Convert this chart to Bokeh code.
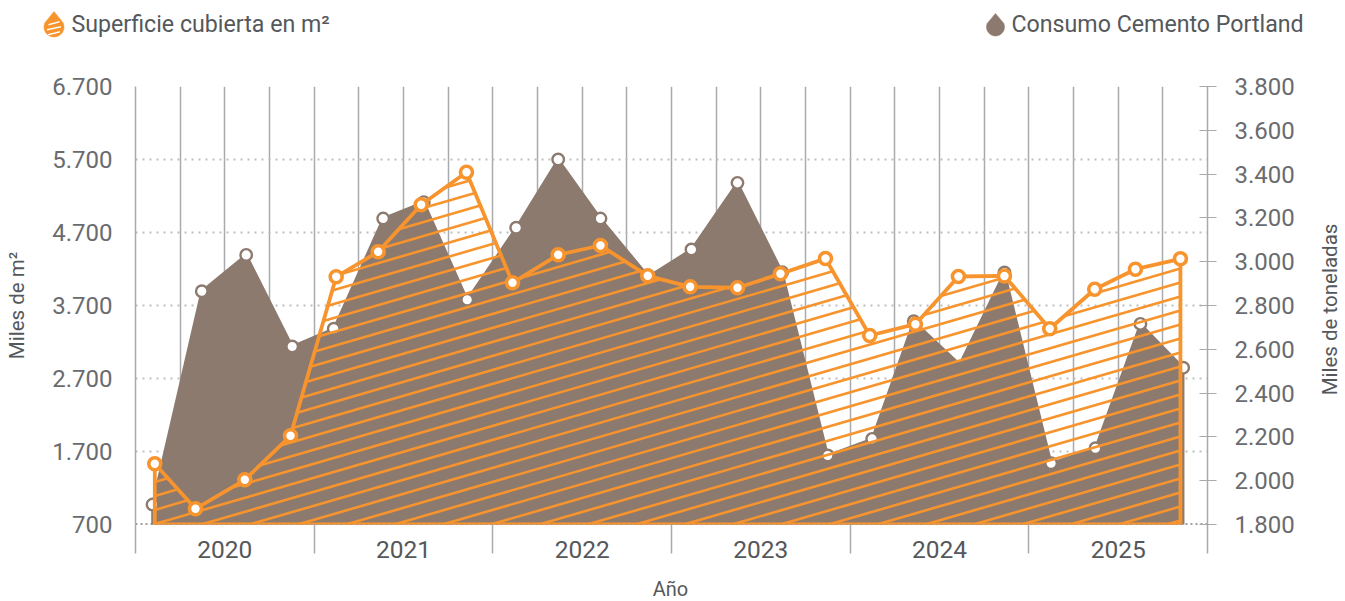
import numpy as np
from bokeh.plotting import figure
from bokeh.layouts import column, row
from bokeh.core.properties import value
from bokeh.models import FixedTicker, LinearAxis, Range1d
from bokeh.embed import file_html
from bokeh.resources import INLINE

# ---- data (x in quarters since the start of 2020) ----
years = ["2020", "2021", "2022", "2023", "2024", "2025"]
superficie_x = [0.432, 1.343, 2.447, 3.470, 4.493, 5.433, 6.396, 7.410, 8.440, 9.463, 10.410, 11.468,
                12.418, 13.477, 14.439, 15.447, 16.438, 17.461, 18.424, 19.454, 20.468, 21.475, 22.386, 23.394]
superficie = [1532, 915, 1312, 1915, 4093, 4436, 5080, 5526, 4011, 4395, 4522, 4107,
              3956, 3943, 4134, 4344, 3289, 3444, 4097, 4105, 3381, 3923, 4197, 4340]
cemento_x = [0.381, 1.484, 2.478, 3.508, 4.439, 5.545, 6.454, 7.426, 8.523, 9.463, 10.410, 11.484,
             12.447, 13.477, 14.477, 15.498, 16.492, 17.423, 18.453, 19.454, 20.499, 21.491, 22.498, 23.455]
cemento = [1891, 2865, 3031, 2613, 2694, 3197, 3272, 2826, 3155, 3467, 3197, 2932,
           3056, 3360, 2952, 2115, 2191, 2728, 2531, 2951, 2080, 2148, 2716, 2516]
left_ticks = [700, 1700, 2700, 3700, 4700, 5700, 6700]
left_labels = ["700", "1.700", "2.700", "3.700", "4.700", "5.700", "6.700"]
right_ticks = [1800, 2000, 2200, 2400, 2600, 2800, 3000, 3200, 3400, 3600, 3800]
right_labels = ["1.800", "2.000", "2.200", "2.400", "2.600", "2.800", "3.000", "3.200", "3.400", "3.600", "3.800"]

ORANGE = "#F7942D"
BROWN = "#8D7A6E"
GRID = "#A9AAAD"
DOTS = "#BDBEC0"
TICK_TXT = "#6A6B6E"
TXT = "#55585B"
FONT = "Roboto"

# frame geometry in page pixels
L, R, T, B = 135, 1207, 86, 524
W, H = 1345, 601
HEAD, FOOT, SIDE = 60, 32, 40


def strip(width, height, x0, x1, y0, y1):
    """A figure with no axes whose frame fills it, with page pixels as its scale."""
    f = figure(width=width, height=height, output_backend="svg", toolbar_location=None,
               x_range=Range1d(x0, x1), y_range=Range1d(y1, y0), frame_align=False,
               min_border_left=0, min_border_right=0, min_border_top=0, min_border_bottom=0,
               x_axis_location=None, y_axis_location=None, outline_line_color=None)
    f.xgrid.visible = False
    f.ygrid.visible = False
    return f


# ---- legend strip -------------------------------------------------------
head = strip(W, HEAD, 0, W, 0, HEAD)


def drop(cx, top_y, bot_y, r, color):
    cy = bot_y - r
    ang = np.linspace(np.radians(-25), np.radians(205), 30)
    xs = [cx] + list(cx + r * np.cos(ang))
    ys = [top_y] + list(cy + r * np.sin(ang))
    head.patch(xs, ys, fill_color=color, line_color=color, line_width=0.5)


drop(53.5, 11, 36.5, 10, ORANGE)
drop(995, 13, 35.5, 9, BROWN)
for y0, hw in ((22, 5.5), (27, 7), (32, 6)):
    head.patch([53.5 - hw, 53.5 + hw, 53.5 + hw, 53.5 - hw],
               [y0 + 1.5, y0 - 1.5, y0 + 0.0, y0 + 3.0], fill_color="white", line_color=None)
head.text([71, 1011], [23, 23], text=["Superficie cubierta en m²", "Consumo Cemento Portland"],
          text_font=value(FONT), text_font_size="23.2px", text_color=TXT, text_baseline="middle")

# ---- right and bottom axis titles ---------------------------------------
side = strip(SIDE, H - HEAD - FOOT, W - SIDE, W, HEAD, H - FOOT)
side.text([1329], [309], text=["Miles de toneladas"], angle=np.pi / 2, text_font=value(FONT),
          text_font_size="20.5px", text_color=TXT, text_align="center", text_baseline="middle")

foot = strip(W, FOOT, 0, W, H - FOOT, H)
foot.text([670], [588.5], text=["Año"], text_font=value(FONT), text_font_size="20px", text_color=TXT,
          text_align="center", text_baseline="middle")

# ---- chart --------------------------------------------------------------
p = figure(width=W - SIDE, height=H - HEAD - FOOT, output_backend="svg", toolbar_location=None,
           x_range=Range1d(0, 24), y_range=Range1d(700, 6700), frame_align=False,
           min_border_left=L, min_border_right=W - SIDE - R,
           min_border_top=T - HEAD, min_border_bottom=H - FOOT - B,
           x_axis_location=None, y_axis_location=None, outline_line_color=None)
p.extra_y_ranges = {"right": Range1d(1800, 3800)}

bottom = LinearAxis(ticker=FixedTicker(ticks=[2 + 4 * i for i in range(6)],
                                       minor_ticks=[4 * i for i in range(7)]),
                    major_label_overrides={2 + 4 * i: y for i, y in enumerate(years)},
                    axis_line_color=None, major_tick_line_color=None, major_tick_out=0, major_tick_in=0,
                    minor_tick_line_color=GRID, minor_tick_line_width=1.5, minor_tick_out=29, minor_tick_in=0,
                    major_label_standoff=-13, major_label_text_font=FONT,
                    major_label_text_font_size="24.5px", major_label_text_color=TXT)
p.add_layout(bottom, "below")

left = LinearAxis(ticker=FixedTicker(ticks=left_ticks),
                  major_label_overrides=dict(zip(left_ticks, left_labels)),
                  axis_line_color=GRID, axis_line_width=1.5,
                  major_tick_line_color=None, minor_tick_line_color=None,
                  major_tick_out=0, major_tick_in=0,
                  major_label_standoff=23, major_label_text_font=FONT,
                  major_label_text_font_size="24px", major_label_text_color=TICK_TXT,
                  axis_label="Miles de m²", axis_label_standoff=20, axis_label_text_font=FONT,
                  axis_label_text_font_style="normal", axis_label_text_font_size="20.5px",
                  axis_label_text_line_height=0.7, axis_label_text_color=TXT)
p.add_layout(left, "left")

right = LinearAxis(y_range_name="right", ticker=FixedTicker(ticks=right_ticks),
                   major_label_overrides=dict(zip(right_ticks, right_labels)),
                   axis_line_color=GRID, axis_line_width=1.5,
                   major_tick_line_color=GRID, major_tick_line_width=1.2,
                   major_tick_in=8, major_tick_out=9, minor_tick_line_color=None,
                   major_label_standoff=18, major_label_text_font=FONT,
                   major_label_text_font_size="24px", major_label_text_color=TICK_TXT)
p.add_layout(right, "right")

p.xgrid.ticker = FixedTicker(ticks=list(range(25)))
p.xgrid.grid_line_color = GRID
p.xgrid.grid_line_width = 1.5
p.ygrid.ticker = FixedTicker(ticks=left_ticks[1:])
p.ygrid.grid_line_color = DOTS
p.ygrid.grid_line_width = 2
p.ygrid.grid_line_dash = "2 5"

# baseline dots
p.line([0, 24], [700, 700], line_color="#414042", line_width=2, line_dash="2 3")

# brown area (right scale)
p.patch([cemento_x[0]] + cemento_x + [cemento_x[-1]], [1800] + cemento + [1800],
        y_range_name="right", fill_color=BROWN, line_color=BROWN, line_width=2.6, line_join="round")
# no marker was drawn on the 2024 third-quarter valley
mk = [i for i in range(len(cemento)) if i != 18]
p.scatter([cemento_x[i] for i in mk], [cemento[i] for i in mk], y_range_name="right", size=11.5,
          fill_color="white", line_color=BROWN, line_width=2.4)

# hatching of the orange polygon, computed in pixels from the data
sxf = (R - L) / 24
syf = (B - T) / 6000
px = np.array([superficie_x[0]] + superficie_x + [superficie_x[-1]]) * sxf
py = (np.array([700] + superficie + [700]) - 700) * syf   # height above the baseline
SLOPE, STEP, PHASE = 0.29, 14.0, 4.0
xs_h, ys_h = [], []
for c in np.arange(-SLOPE * px.max() - STEP, py.max() + STEP, STEP):
    c = c + PHASE
    hits = []
    for i in range(len(px)):
        j = (i + 1) % len(px)
        f1, f2 = py[i] - (SLOPE * px[i] + c), py[j] - (SLOPE * px[j] + c)
        if (f1 > 0) != (f2 > 0):
            t = f1 / (f1 - f2)
            hits.append(px[i] + t * (px[j] - px[i]))
    hits.sort()
    for a, b in zip(hits[0::2], hits[1::2]):
        xs_h.append([a / sxf, b / sxf])
        ys_h.append([(SLOPE * a + c) / syf + 700, (SLOPE * b + c) / syf + 700])
p.multi_line(xs_h, ys_h, line_color=ORANGE, line_width=2.6)

# orange outline and points
p.patch([superficie_x[0]] + superficie_x + [superficie_x[-1]], [700] + superficie + [700],
        fill_color=None, line_color=ORANGE, line_width=3.8, line_join="round")
p.scatter(superficie_x, superficie, size=12, fill_color="white", line_color=ORANGE, line_width=3.6)

page = column(head, row(p, side, spacing=0), foot, spacing=0)
open("out.html", "w").write(file_html(page, INLINE))
